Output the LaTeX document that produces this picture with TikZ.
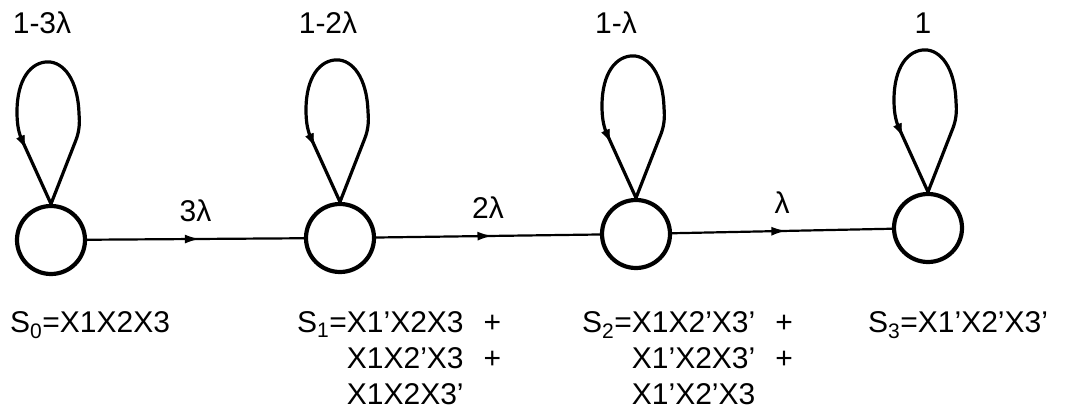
\documentclass[tikz,border=0pt]{standalone}
\usepackage{fontspec}
\setmainfont{Liberation Sans}
\usetikzlibrary{decorations.markings,arrows.meta}
\begin{document}
\begin{tikzpicture}[x=1pt,y=-1pt,
  state/.style={circle,draw,line width=4.2pt,minimum size=68pt,inner sep=0pt},
  edge/.style={line width=2.2pt,postaction={decorate},
    decoration={markings,mark=at position 0.52 with {\arrow{Latex[length=15pt,width=9pt]}}}},
  selfloop/.style={line width=3.2pt,line join=round},
  loopmark/.style={postaction={decorate},
    decoration={markings,mark=at position 0.16 with {\arrow{Latex[length=13pt,width=9pt]}}}},
  lab/.style={font=\fontsize{30}{36}\selectfont,inner sep=0pt},
  txt/.style={font=\fontsize{30}{36}\selectfont,inner sep=0pt,anchor=base west,align=left},
]
\useasboundingbox (0,0) rectangle (1073,414);

\node[state] (S0) at (51,240) {};
\node[state] (S1) at (340,238) {};
\node[state] (S2) at (636,234) {};
\node[state] (S3) at (928,228) {};

\foreach \n in {S0,S1,S2,S3}{
  \begin{scope}[shift={(\n.north)}]
    \coordinate (\n-la) at (-30,-66);
    \draw[selfloop] (0,0) -- (25,-64)
      .. controls (28,-72) and (29,-80) .. (28,-90)
      .. controls (27,-125) and (12,-142) .. (-3,-142)
      .. controls (-20,-142) and (-34,-125) .. (-34,-92)
      .. controls (-34,-82) and (-33,-74) .. (\n-la) -- (0,0);
    \path[loopmark] (\n-la) -- (0,0);
  \end{scope}
}

\node[lab] (l0) at (42,23) {1-3λ};
\node[lab] (l1) at (328,23) {1-2λ};
\node[lab] (l2) at (616,23) {1-λ};
\node[lab] (l3) at (923,23) {1};

\draw[edge] (S0) -- node[lab,above=16pt] (e1) {3λ} (S1);
\draw[edge] (S1) -- node[lab,above=16pt] (e2) {2λ} (S2);
\draw[edge] (S2) -- node[lab,above=16pt] (e3) {λ} (S3);

\node[txt] (t0) at (10,332) {S\textsubscript{0}=X1X2X3};
\node[txt] (t1) at (297,332) {\begin{tabular}[t]{@{}r@{}l@{\hspace{20pt}}l@{}}
S\textsubscript{1}= & X1’X2X3 & + \\
 & X1X2’X3 & + \\
 & X1X2X3’ & \\
\end{tabular}};
\node[txt] (t2) at (582,332) {\begin{tabular}[t]{@{}r@{}l@{\hspace{20pt}}l@{}}
S\textsubscript{2}= & X1X2’X3’ & + \\
 & X1’X2X3’ & + \\
 & X1’X2’X3 & \\
\end{tabular}};
\node[txt] (t3) at (868,332) {S\textsubscript{3}=X1’X2’X3’};
\end{tikzpicture}
\end{document}
